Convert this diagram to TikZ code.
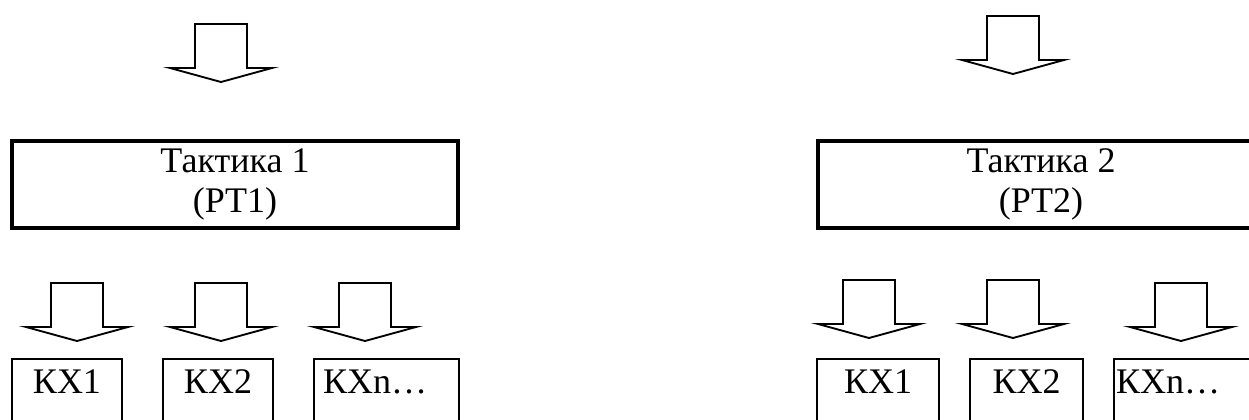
\documentclass[tikz,border=0pt]{standalone}
\usepackage{fontspec}
\setmainfont{Liberation Serif}
\usetikzlibrary{positioning}

\begin{document}
\begin{tikzpicture}[x=0.75pt,y=-0.75pt,
  tact/.style={rectangle,draw=black,line width=2.3pt,minimum width=334.5pt,minimum height=65.25pt,
    align=center,inner sep=0pt,font=\fontsize{27}{30}\selectfont},
  kx/.style={rectangle,draw=black,line width=1.7pt,inner sep=0pt,text height=26pt,text depth=42pt,
    font=\fontsize{27}{30}\selectfont},
  fatarrow/.pic={\draw[line width=1.4pt,line join=miter]
    (-26,0) -- (-26,44) -- (-51,44) -- (0,58) -- (51,44) -- (26,44) -- (26,0) -- cycle;}
]
\useasboundingbox[fill=white] (0,0) rectangle (1249,419);
% ---- left panel : tactic 1
\pic at (221,24) {fatarrow};
\node[tact] (tac1) at (235,184.5) {Тактика 1\\(РТ1)};
\foreach \cx in {77,221,365}
  \pic at (\cx,283) {fatarrow};
\foreach \cx/\w/\t/\nm in {67/82.5pt/КХ1/kxa1, 218/82.5pt/КХ2/kxa2}
  \node[kx,minimum width=\w,anchor=north] (\nm) at (\cx,358) {\t};
\node[kx,anchor=north west,text width=95.25pt,inner xsep=6.75pt,align=left] (kxa3) at (313,358) {КХn…};
% ---- right panel : tactic 2
\pic at (1013,16) {fatarrow};
\node[tact] (tac2) at (1041,184.5) {Тактика 2\\(РТ2)};
\foreach \cx/\ty in {869/280, 1013/280, 1181/283}
  \pic at (\cx,\ty) {fatarrow};
\foreach \cx/\w/\t/\nm in {878/91.5pt/КХ1/kxb1, 1026.5/84.75pt/КХ2/kxb2}
  \node[kx,minimum width=\w,anchor=north] (\nm) at (\cx,358) {\t};
\node[kx,anchor=north west,text width=110pt,inner xsep=1.5pt,align=left] (kxb3) at (1113,358) {КХn…};
\end{tikzpicture}
\end{document}
